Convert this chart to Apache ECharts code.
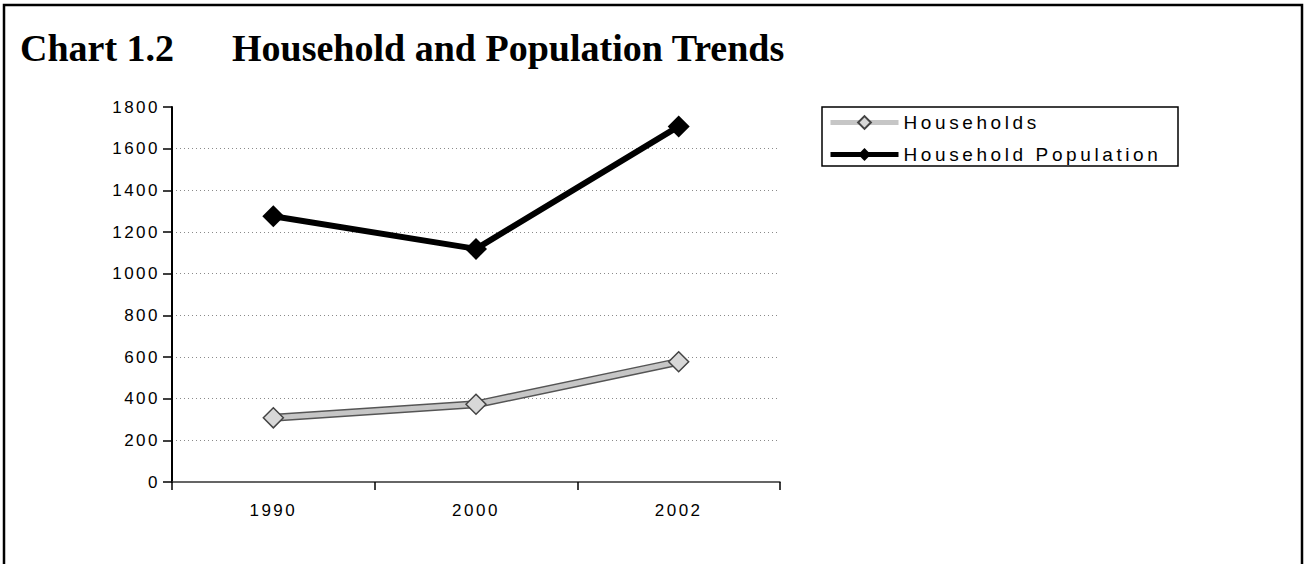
<!DOCTYPE html>
<html>
<head>
<meta charset="utf-8">
<title>Household and Population Trends</title>
<script src="https://cdn.jsdelivr.net/npm/echarts@6/dist/echarts.min.js"></script>
<style>
  html, body { margin: 0; padding: 0; background: #fff; }
  #chart { width: 1306px; height: 564px; }
  /* spaced-out sans labels, as in the printed figure */
  #chart text[style*="Liberation Sans"] { letter-spacing: 2.5px; }
  #chart text[style*="19px"] { letter-spacing: 3.6px; }
</style>
</head>
<body>
<div id="chart"></div>
<script>
// Years on the category axis
const years = ['1990', '2000', '2002'];
// Number of households
const households = [308, 373, 577];
// Household population
const householdPopulation = [1276, 1119, 1707];
// Value axis ticks
const yMin = 0;
const yMax = 1800;
const yStep = 200;

const sans = 'Liberation Sans';
const serif = 'Liberation Serif';

// No gridline drawn at the top of the value axis
const gridColors = [];
for (let v = yMin; v <= yMax; v += yStep) {
  gridColors.push(v === yMax || v === yMin ? 'rgba(0,0,0,0)' : '#8a8a8a');
}

const chart = echarts.init(document.getElementById('chart'), null, { renderer: 'svg' });

chart.setOption({
  backgroundColor: '#fff',
  animation: false,
  title: [
    {
      text: 'Chart 1.2',
      left: 20, top: 29, padding: 0,
      textStyle: { fontFamily: serif, fontWeight: 'bold', fontSize: 38, color: '#000' }
    },
    {
      text: 'Household and Population Trends',
      left: 232, top: 29, padding: 0,
      textStyle: { fontFamily: serif, fontWeight: 'bold', fontSize: 38, color: '#000' }
    }
  ],
  graphic: [
    {
      // outer frame of the figure
      type: 'rect',
      shape: { x: 4, y: 5, width: 1298, height: 600 },
      style: { fill: 'none', stroke: '#000', lineWidth: 2.5 },
      silent: true
    },
    {
      // legend frame
      type: 'rect',
      shape: { x: 822, y: 107, width: 356, height: 59 },
      style: { fill: 'none', stroke: '#000', lineWidth: 1.5 },
      silent: true
    }
  ],
  legend: {
    data: [
      { name: 'Households', lineStyle: { width: 5, color: '#c6c6c6' } },
      { name: 'Household Population', lineStyle: { width: 5, color: '#000' } }
    ],
    orient: 'vertical',
    left: 828,
    top: 113,
    padding: 0,
    itemWidth: 68,
    itemHeight: 16,
    itemGap: 13,
    textStyle: { fontFamily: sans, fontSize: 19, color: '#000', lineHeight: 16 },
    selectedMode: false
  },
  grid: { left: 172, right: 526, top: 107, bottom: 82 },
  xAxis: {
    type: 'category',
    data: years,
    boundaryGap: true,
    axisLine: { lineStyle: { color: '#333', width: 1.5 } },
    axisTick: { show: true, length: 8, lineStyle: { color: '#000', width: 1.5 } },
    axisLabel: { fontFamily: sans, fontSize: 17, color: '#000', margin: 20 },
    splitLine: { show: false }
  },
  yAxis: {
    type: 'value',
    min: yMin,
    max: yMax,
    interval: yStep,
    axisLine: { show: true, lineStyle: { color: '#000', width: 2 } },
    axisTick: { show: true, length: 9, lineStyle: { color: '#000', width: 1.5 } },
    axisLabel: { fontFamily: sans, fontSize: 17, color: '#000', margin: 12, formatter: v => String(v) },
    splitLine: { show: true, lineStyle: { color: gridColors, width: 1, type: [1, 3] } }
  },
  series: [
    {
      name: 'Households',
      type: 'line',
      data: households,
      z: 4,
      symbol: 'diamond',
      symbolSize: 20,
      lineStyle: { color: '#c6c6c6', width: 5 },
      itemStyle: { color: '#d8d8d8', borderColor: '#444', borderWidth: 1.5 }
    },
    {
      // dark edge under the grey Households line
      name: 'Households',
      type: 'line',
      data: households,
      z: 3,
      showSymbol: false,
      lineStyle: { color: '#555', width: 8 },
      itemStyle: { color: '#555' }
    },
    {
      name: 'Household Population',
      type: 'line',
      data: householdPopulation,
      z: 5,
      symbol: 'diamond',
      symbolSize: 22,
      lineStyle: { color: '#000', width: 6 },
      itemStyle: { color: '#000' }
    }
  ]
});
</script>
</body>
</html>
